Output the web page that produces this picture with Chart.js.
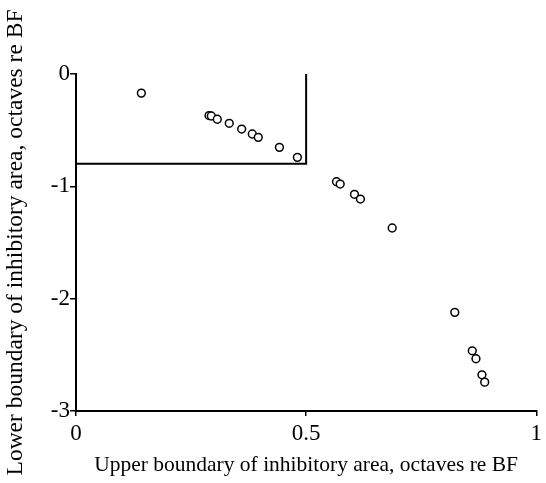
<!DOCTYPE html>
<html>
<head>
<meta charset="utf-8">
<script src="https://cdn.jsdelivr.net/npm/chart.js@4.4.1/dist/chart.umd.min.js"></script>
<style>
  html, body { margin: 0; padding: 0; background: #fff; }
  #wrap { width: 546px; height: 483px; position: relative; }
</style>
</head>
<body>
<div id="wrap"><canvas id="chartCanvas"></canvas></div>
<script>
// upper boundary (x) and lower boundary (y), octaves re BF
const upperBound = [0.142, 0.289, 0.294, 0.307, 0.333, 0.360, 0.383, 0.396, 0.442, 0.481,
                    0.566, 0.574, 0.605, 0.618, 0.687, 0.823, 0.861, 0.869, 0.882, 0.888];
const lowerBound = [-0.17, -0.37, -0.374, -0.403, -0.439, -0.49, -0.534, -0.564, -0.653, -0.742,
                    -0.959, -0.98, -1.071, -1.113, -1.371, -2.122, -2.464, -2.535, -2.678, -2.743];

// the boxed region in the upper left
const boxX = [0, 0.5, 0.5];
const boxY = [-0.8, -0.8, 0];

const xTicks = [0, 0.5, 1];
const yTicks = [0, -1, -2, -3];

const serif = "'Liberation Serif', 'Times New Roman', serif";

const points = upperBound.map((x, i) => ({ x: x, y: lowerBound[i] }));
const box = boxX.map((x, i) => ({ x: x, y: boxY[i] }));

const ctx = document.getElementById('chartCanvas').getContext('2d');

new Chart(ctx, {
  type: 'scatter',
  data: {
    datasets: [
      {
        data: points,
        pointStyle: 'circle',
        pointRadius: 3.9,
        pointBorderWidth: 1.5,
        pointBorderColor: '#000',
        pointBackgroundColor: '#fff',
        showLine: false
      },
      {
        data: box,
        showLine: true,
        borderColor: '#000',
        borderWidth: 2,
        pointRadius: 0,
        fill: false,
        clip: false
      }
    ]
  },
  options: {
    responsive: true,
    maintainAspectRatio: false,
    animation: false,
    layout: { padding: { left: 0, top: 74, right: 8, bottom: 0 } },
    plugins: {
      legend: { display: false },
      tooltip: { enabled: false }
    },
    scales: {
      x: {
        type: 'linear',
        min: 0,
        max: 1,
        afterBuildTicks: s => { s.ticks = xTicks.map(v => ({ value: v })); },
        afterFit: s => { s.height = 72; },
        ticks: {
          color: '#000',
          font: { family: serif, size: 23 },
          padding: 4,
          maxRotation: 0,
          callback: v => String(v)
        },
        grid: { drawOnChartArea: false, drawTicks: true, tickLength: 5, color: '#000', lineWidth: 1.5 },
        border: { display: true, color: '#000', width: 2 },
        title: {
          display: true,
          text: 'Upper boundary of inhibitory area, octaves re BF',
          color: '#000',
          font: { family: serif, size: 21.5 },
          padding: { top: 0, bottom: 5 }
        }
      },
      y: {
        type: 'linear',
        min: -3,
        max: 0,
        afterBuildTicks: s => { s.ticks = yTicks.map(v => ({ value: v })); },
        afterFit: s => { s.width = 76; },
        ticks: {
          color: '#000',
          font: { family: serif, size: 23 },
          padding: 0,
          callback: v => String(v)
        },
        grid: { drawOnChartArea: false, drawTicks: true, tickLength: 6, color: '#000', lineWidth: 1.5 },
        border: { display: true, color: '#000', width: 2 },
        title: {
          display: true,
          text: 'Lower boundary of inhibitory area, octaves re BF',
          color: '#000',
          font: { family: serif, size: 23.5 },
          padding: { top: 2, bottom: 0 }
        }
      }
    }
  }
});
</script>
</body>
</html>
